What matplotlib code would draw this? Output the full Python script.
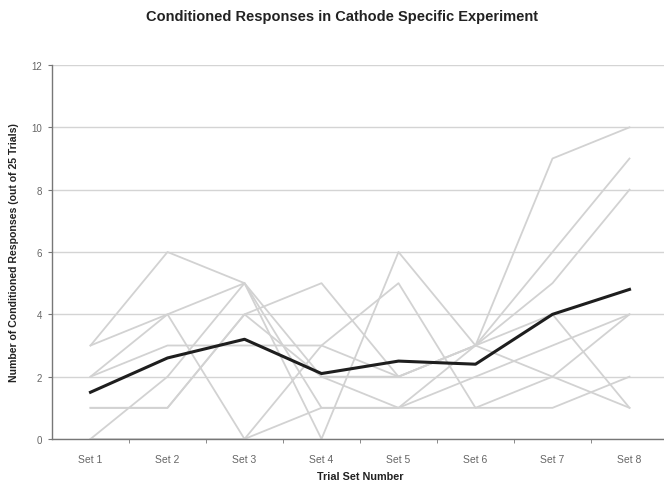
import matplotlib
matplotlib.use("Agg")
import matplotlib.pyplot as plt
import numpy as np

plt.rcParams['font.family'] = ['Liberation Sans', 'DejaVu Sans']

# categorias y datos
sets = ["Set 1", "Set 2", "Set 3", "Set 4", "Set 5", "Set 6", "Set 7", "Set 8"]

# respuestas de cada sujeto (lineas grises)
subj_a = [3, 6, 5, 2, 1, 3, 9, 10]
subj_b = [1, 1, 4, 5, 2, 3, 6, 9]
subj_c = [0, 2, 5, 0, 6, 3, 5, 8]
subj_d = [2, 4, 5, 1, 1, 2, 3, 4]
subj_e = [3, 4, 0, 3, 5, 1, 1, 2]
subj_f = [1, 1, 4, 2, 2, 3, 4, 1]
subj_g = [2, 3, 3, 3, 2, 3, 2, 4]
subj_h = [0, 0, 0, 1, 1, 1, 2, 1]
subjects = [subj_a, subj_b, subj_c, subj_d, subj_e, subj_f, subj_g, subj_h]

# promedio (linea negra)
mean_resp = [1.5, 2.6, 3.2, 2.1, 2.5, 2.4, 4.0, 4.8]

fig = plt.figure(figsize=(6.64, 4.85), dpi=100)
ax = fig.add_axes([52/664, 1 - 440/485, 616/664, 374/485])

x = np.arange(len(sets))
for s in subjects:
    ax.plot(x, s, color="#d2d2d2", lw=1.3, zorder=2)
ax.plot(x, mean_resp, color="#1e1e1e", lw=2.2, zorder=3)

ax.set_xlim(-0.5, len(sets) - 0.5)
ax.set_ylim(0, 12)
ax.set_yticks(range(0, 13, 2))
ax.yaxis.grid(True, color="#d4d4d4", lw=1)
ax.set_axisbelow(True)

ax.set_xticks(x)
ax.set_xticklabels(sets)
ax.set_xticks(np.arange(0.5, len(sets) - 0.5, 1), minor=True)
ax.tick_params(axis="x", which="major", length=0, labelsize=7.5, labelcolor="#666666", pad=11)
ax.tick_params(axis="x", which="minor", length=3, color="#777777")
ax.tick_params(axis="y", length=3, color="#777777", labelsize=7, labelcolor="#666666", pad=4)

for side in ["top", "right"]:
    ax.spines[side].set_visible(False)
for side in ["left", "bottom"]:
    ax.spines[side].set_color("#777777")
    ax.spines[side].set_linewidth(1)

fig.text(342/664, 1 - 17/485, "Conditioned Responses in Cathode Specific Experiment",
         ha="center", va="center", fontsize=10.5, fontweight="bold", color="#222222")
ax.set_xlabel("Trial Set Number", fontsize=7.8, fontweight="bold", color="#222222", labelpad=5)
ax.set_ylabel("Number of Conditioned Responses (out of 25 Trials)", fontsize=7.6,
              fontweight="bold", color="#222222", labelpad=9)

fig.savefig("out.png", dpi=100)
